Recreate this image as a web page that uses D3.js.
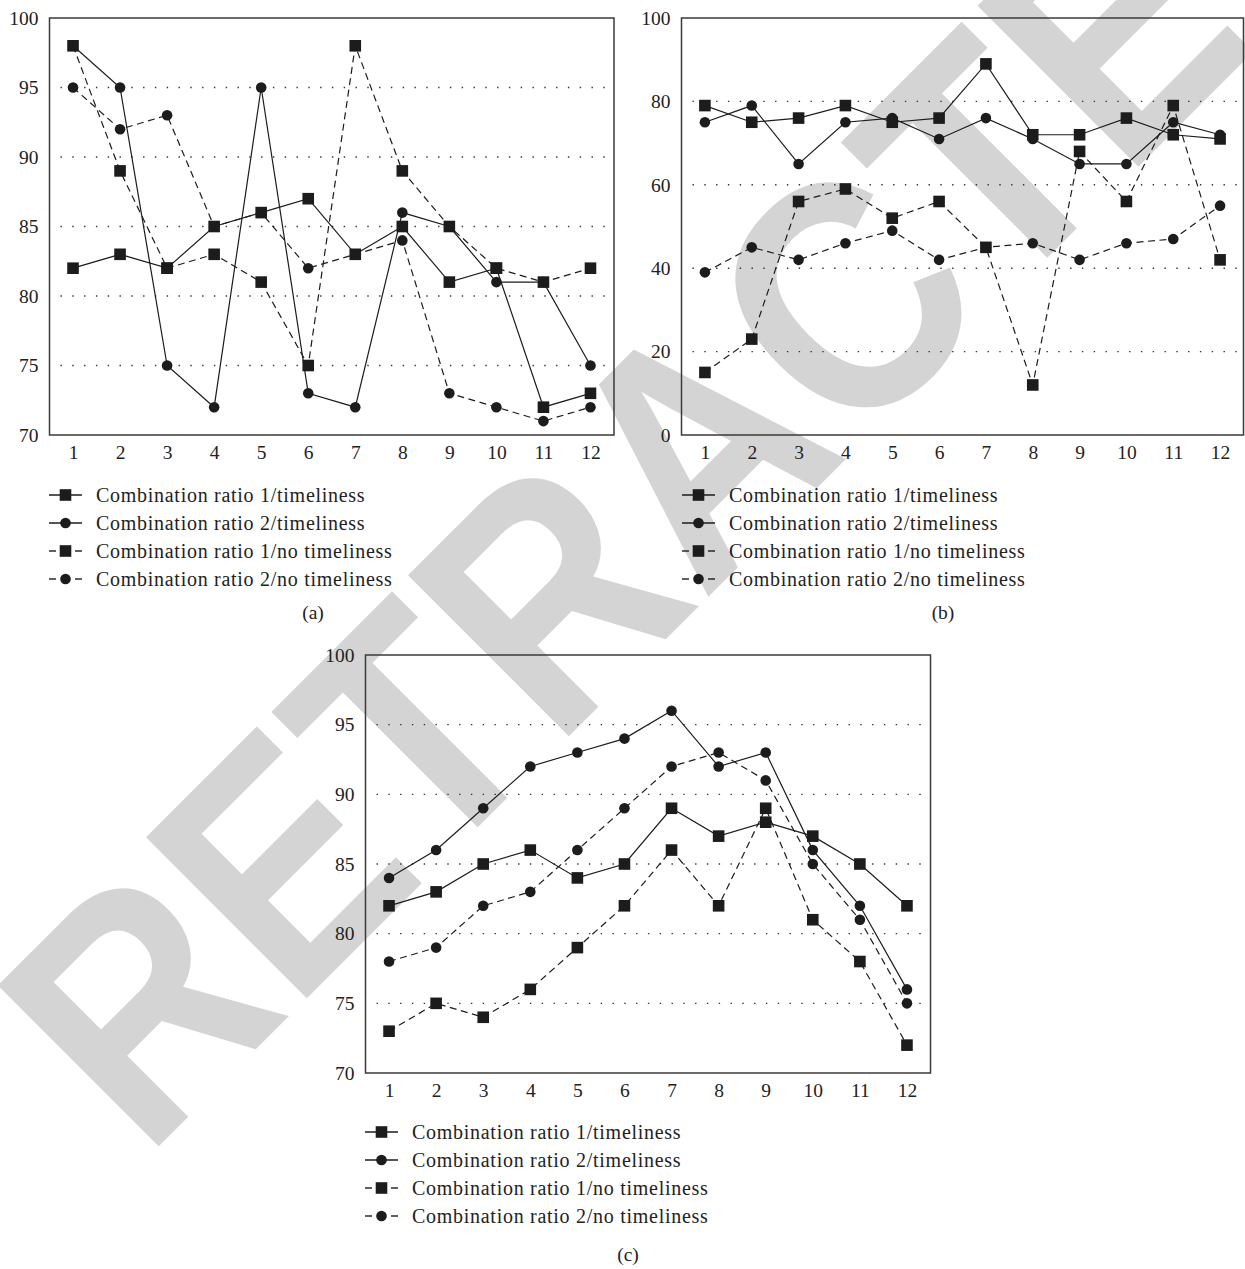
<!DOCTYPE html>
<html>
<head>
<meta charset="utf-8">
<script src="https://cdn.jsdelivr.net/npm/d3@7"></script>
<style>
  body { margin: 0; background: #fff; }
  text { font-family: "Liberation Serif", "Times New Roman", serif; }
</style>
</head>
<body>
<script>
// x categories shared by all three panels
const months = [1, 2, 3, 4, 5, 6, 7, 8, 9, 10, 11, 12];
const seriesNames = [
    "Combination ratio 1/timeliness",
    "Combination ratio 2/timeliness",
    "Combination ratio 1/no timeliness",
    "Combination ratio 2/no timeliness"
];

// panel (a)
const aRatio1Time   = [82, 83, 82, 85, 86, 87, 83, 85, 81, 82, 72, 73];
const aRatio2Time   = [98, 95, 75, 72, 95, 73, 72, 86, 85, 81, 81, 75];
const aRatio1NoTime = [98, 89, 82, 83, 81, 75, 98, 89, 85, 82, 81, 82];
const aRatio2NoTime = [95, 92, 93, 85, 86, 82, 83, 84, 73, 72, 71, 72];
const aTicks = [70, 75, 80, 85, 90, 95, 100];

// panel (b)
const bRatio1Time   = [79, 75, 76, 79, 75, 76, 89, 72, 72, 76, 72, 71];
const bRatio2Time   = [75, 79, 65, 75, 76, 71, 76, 71, 65, 65, 75, 72];
const bRatio1NoTime = [15, 23, 56, 59, 52, 56, 45, 12, 68, 56, 79, 42];
const bRatio2NoTime = [39, 45, 42, 46, 49, 42, 45, 46, 42, 46, 47, 55];
const bTicks = [0, 20, 40, 60, 80, 100];

// panel (c)
const cRatio1Time   = [82, 83, 85, 86, 84, 85, 89, 87, 88, 87, 85, 82];
const cRatio2Time   = [84, 86, 89, 92, 93, 94, 96, 92, 93, 86, 82, 76];
const cRatio1NoTime = [73, 75, 74, 76, 79, 82, 86, 82, 89, 81, 78, 72];
const cRatio2NoTime = [78, 79, 82, 83, 86, 89, 92, 93, 91, 85, 81, 75];
const cTicks = [70, 75, 80, 85, 90, 95, 100];

const W = 1245, H = 1269;
const INK = "#1c1c1c";

const svg = d3.select("body").append("svg")
    .attr("width", W).attr("height", H);

svg.append("rect").attr("width", W).attr("height", H).attr("fill", "#fff");

// retraction watermark, under everything else
svg.append("text")
    .attr("transform", "translate(145,1160) rotate(-45) scale(1,1.14)")
    .attr("fill", "#d4d4d4")
    .style("font-family", "'Liberation Sans', Arial, sans-serif")
    .style("font-weight", "bold")
    .style("font-size", "290px")
    .text("RETRACTED");

const panels = [
    {
        label: "(a)", ticks: aTicks,
        series: [aRatio1Time, aRatio2Time, aRatio1NoTime, aRatio2NoTime],
        left: 49.5, right: 614, top: 18, bottom: 435,
        legendX: 49, legendY: 495, captionX: 313, captionY: 619
    },
    {
        label: "(b)", ticks: bTicks,
        series: [bRatio1Time, bRatio2Time, bRatio1NoTime, bRatio2NoTime],
        left: 681.5, right: 1243.5, top: 18, bottom: 435,
        legendX: 682, legendY: 495, captionX: 943, captionY: 619
    },
    {
        label: "(c)", ticks: cTicks,
        series: [cRatio1Time, cRatio2Time, cRatio1NoTime, cRatio2NoTime],
        left: 365.5, right: 930.5, top: 655, bottom: 1073,
        legendX: 365, legendY: 1132, captionX: 628, captionY: 1261
    }
];

// marker / dash per series
const styles = [
    { shape: "square", dash: null },
    { shape: "circle", dash: null },
    { shape: "square", dash: "7,4.5" },
    { shape: "circle", dash: "7,4.5" }
];

function drawMarker(g, shape, cx, cy) {
    if (shape === "square") {
        g.append("rect")
            .attr("x", cx - 5.8).attr("y", cy - 5.8)
            .attr("width", 11.6).attr("height", 11.6)
            .attr("fill", INK);
    } else {
        g.append("circle")
            .attr("cx", cx).attr("cy", cy).attr("r", 5.3)
            .attr("fill", INK);
    }
}

panels.forEach(function (p) {
    const g = svg.append("g");
    const x = d3.scaleLinear().domain([0.5, 12.5]).range([p.left, p.right]);
    const y = d3.scaleLinear().domain(d3.extent(p.ticks)).range([p.bottom, p.top]);

    // dotted gridlines (inner ticks only)
    g.selectAll("line.grid")
        .data(p.ticks.slice(1, -1))
        .enter().append("line")
        .attr("class", "grid")
        .attr("x1", p.left + 1).attr("x2", p.right)
        .attr("y1", d => y(d)).attr("y2", d => y(d))
        .attr("stroke", "#333")
        .attr("stroke-width", 1.4)
        .attr("stroke-dasharray", "1.4,10.4")
        .attr("stroke-dashoffset", -10);

    // axes, tick labels only
    const xAxis = g.append("g")
        .attr("transform", "translate(0," + p.bottom + ")")
        .call(d3.axisBottom(x).tickValues(months).tickSize(0).tickPadding(10.5));
    const yAxis = g.append("g")
        .attr("transform", "translate(" + p.left + ",0)")
        .call(d3.axisLeft(y).tickValues(p.ticks).tickSize(0).tickPadding(11));
    [xAxis, yAxis].forEach(function (a) {
        a.select(".domain").remove();
        a.selectAll("text")
            .style("font-family", "'Liberation Serif', serif")
            .style("font-size", "19.5px")
            .attr("fill", "#222");
    });

    // frame
    g.append("rect")
        .attr("x", p.left).attr("y", p.top)
        .attr("width", p.right - p.left).attr("height", p.bottom - p.top)
        .attr("fill", "none")
        .attr("stroke", "#3a3a3a")
        .attr("stroke-width", 1.5);

    const line = d3.line()
        .x((d, i) => x(months[i]))
        .y(d => y(d));

    // lines first, then circles, then squares on top
    p.series.forEach(function (s, k) {
        g.append("path")
            .attr("d", line(s))
            .attr("fill", "none")
            .attr("stroke", INK)
            .attr("stroke-width", 1.2)
            .attr("stroke-dasharray", styles[k].dash);
    });
    ["circle", "square"].forEach(function (shape) {
        p.series.forEach(function (s, k) {
            if (styles[k].shape !== shape) return;
            s.forEach(function (v, i) {
                drawMarker(g, shape, x(months[i]), y(v));
            });
        });
    });

    // legend
    seriesNames.forEach(function (name, k) {
        const ly = p.legendY + k * 28;
        const x0 = p.legendX, x1 = p.legendX + 33;
        if (styles[k].dash) {
            g.append("line").attr("x1", x0).attr("x2", x0 + 7)
                .attr("y1", ly).attr("y2", ly)
                .attr("stroke", INK).attr("stroke-width", 1.4);
            g.append("line").attr("x1", x1 - 7).attr("x2", x1)
                .attr("y1", ly).attr("y2", ly)
                .attr("stroke", INK).attr("stroke-width", 1.4);
        } else {
            g.append("line").attr("x1", x0).attr("x2", x1)
                .attr("y1", ly).attr("y2", ly)
                .attr("stroke", INK).attr("stroke-width", 1.4);
        }
        drawMarker(g, styles[k].shape, (x0 + x1) / 2, ly);
        g.append("text")
            .attr("x", x0 + 47).attr("y", ly)
            .attr("dy", "0.33em")
            .style("font-size", "20px")
            .style("letter-spacing", "0.72px")
            .attr("fill", "#222")
            .text(name);
    });

    g.append("text")
        .attr("x", p.captionX).attr("y", p.captionY)
        .attr("text-anchor", "middle")
        .style("font-size", "19.5px")
        .attr("fill", "#222")
        .text(p.label);
});
</script>
</body>
</html>
